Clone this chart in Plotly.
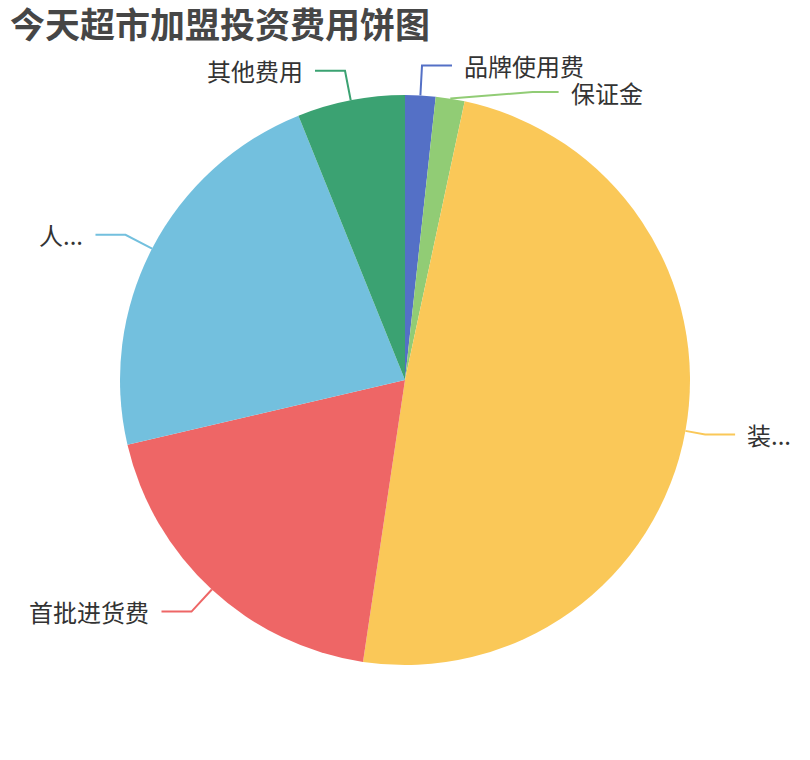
import math
import plotly.graph_objects as go

# slice data, clockwise from 12 o'clock
labels = ["品牌使用费", "保证金", "装...", "首批进货费", "人...", "其他费用"]
values = [1.72, 1.64, 49.0, 19.0, 22.55, 6.1]
colors = ["#5470c6", "#91cc75", "#fac858", "#ee6666", "#73c0de", "#3ba272"]

# leader line tweaks (pixels): first segment, second segment, label y nudge
seg1 = [30, 30, 20, 30, 30, 30]
seg2 = [30, 26, 30, 30, 30, 30]
nudge_y = [0, 23, 0, 0, 0, 0]

W, H = 810, 760
cx, cy, R = 405, 380, 285

fig = go.Figure()

fig.add_trace(go.Pie(
    labels=labels, values=values, sort=False, direction="clockwise", rotation=0,
    marker=dict(colors=colors, line=dict(width=0)),
    textinfo="none", hoverinfo="label+value+percent", showlegend=False,
    domain=dict(x=[(cx - R) / W, (cx + R) / W], y=[(H - cy - R) / H, (H - cy + R) / H]),
))

# leader lines and labels, placed from each slice's mid angle
total = sum(values)
acc = 0
annotations = []
for i, v in enumerate(values):
    mid = (acc + v / 2) / total * 2 * math.pi
    acc += v
    s, c = math.sin(mid), math.cos(mid)
    x0, y0 = cx + R * s, cy - R * c
    r1 = R + seg1[i]
    x1, y1 = cx + r1 * s, cy - r1 * c
    if nudge_y[i]:
        # slide the elbow along the same circle, like an overlap shift
        y1 += nudge_y[i]
        dx = math.sqrt(max(r1 ** 2 - (cy - y1) ** 2, 0))
        x1 = cx + dx if s >= 0 else cx - dx
    x2 = x1 + seg2[i] if s >= 0 else x1 - seg2[i]
    fig.add_trace(go.Scatter(
        x=[x0, x1, x2], y=[y0, y1, y1], mode="lines",
        line=dict(color=colors[i], width=2), hoverinfo="skip", showlegend=False,
    ))
    annotations.append(dict(
        x=x2 + 10 if s >= 0 else x2 - 10, y=y1, xref="x", yref="y",
        text=labels[i], showarrow=False,
        xanchor="left" if s >= 0 else "right", yanchor="middle",
        font=dict(size=24, color="#333333"),
    ))

fig.update_layout(
    width=W, height=H,
    margin=dict(l=0, r=0, t=0, b=0),
    paper_bgcolor="white", plot_bgcolor="rgba(0,0,0,0)",
    font=dict(family="Noto Sans CJK SC, sans-serif"),
    title=dict(
        text="今天超市加盟投资费用饼图", x=10 / W, xanchor="left",
        y=1 - 26 / H, yanchor="middle",
        font=dict(size=35, color="#464646", weight="bold"),
    ),
    xaxis=dict(range=[0, W], visible=False, fixedrange=True),
    yaxis=dict(range=[H, 0], visible=False, fixedrange=True),
    annotations=annotations,
)

# drop the default page margin so the figure sits at the window's corner
fig.write_html("out.html", config={"displayModeBar": False},
               post_script="document.body.style.margin='0';")
